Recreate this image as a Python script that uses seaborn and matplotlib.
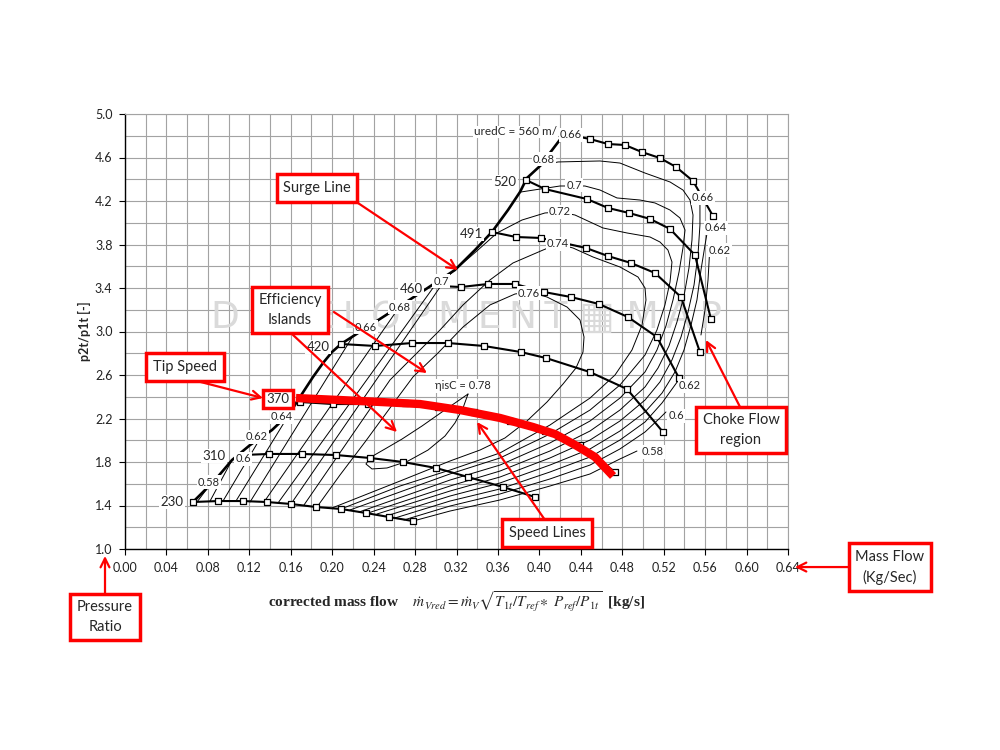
import matplotlib
matplotlib.use('Agg')
import matplotlib.pyplot as plt
import seaborn as sns
import pandas as pd
from matplotlib.ticker import MultipleLocator, FormatStrFormatter

sns.set_theme(style="whitegrid")
plt.rcParams['font.family'] = ['Lato', 'DejaVu Sans']
plt.rcParams['mathtext.fontset'] = 'stix'

RED = '#fe0000'

# speed lines: (corrected mass flow [kg/s], pressure ratio)
spd_230 = [(0.0656, 1.432), (0.0898, 1.441), (0.1139, 1.441), (0.1371, 1.432), (0.1602, 1.414),
           (0.1844, 1.386), (0.2085, 1.368), (0.2326, 1.331), (0.2548, 1.294), (0.2780, 1.257)]
spd_310 = [(0.1129, 1.864), (0.1390, 1.874), (0.1708, 1.874), (0.2037, 1.864), (0.2365, 1.837),
           (0.2683, 1.800), (0.3002, 1.745), (0.3311, 1.662), (0.3649, 1.570), (0.3958, 1.478)]
spd_370 = [(0.1689, 2.352), (0.2008, 2.333), (0.2346, 2.333), (0.2703, 2.343), (0.3021, 2.306),
           (0.3369, 2.260), (0.3716, 2.177), (0.4054, 2.085), (0.4392, 1.956), (0.4730, 1.708)]
spd_420 = [(0.2085, 2.885), (0.2413, 2.867), (0.2770, 2.894), (0.3118, 2.894), (0.3465, 2.867),
           (0.3822, 2.811), (0.4064, 2.756), (0.4488, 2.627), (0.4846, 2.471), (0.5193, 2.076)]
spd_460 = [(0.3041, 3.418), (0.3243, 3.409), (0.3504, 3.437), (0.3765, 3.437), (0.4045, 3.363),
           (0.4305, 3.317), (0.4575, 3.253), (0.4855, 3.133), (0.5135, 2.949), (0.5348, 2.572)]
spd_491 = [(0.3542, 3.915), (0.3774, 3.869), (0.4015, 3.860), (0.4450, 3.768), (0.4662, 3.694),
           (0.4884, 3.630), (0.5116, 3.538), (0.5367, 3.317), (0.5550, 2.811)]
spd_520 = [(0.3871, 4.393), (0.4054, 4.310), (0.4460, 4.218), (0.4662, 4.136), (0.4865, 4.090),
           (0.5068, 4.035), (0.5261, 3.943), (0.5502, 3.703), (0.5656, 3.115)]
spd_560 = [(0.4344, 4.798), (0.4488, 4.770), (0.4662, 4.724), (0.4826, 4.715), (0.4990, 4.650),
           (0.5164, 4.595), (0.5319, 4.513), (0.5483, 4.384), (0.5676, 4.062)]
# lines whose first point carries no marker
no_lead_marker = ['310', '460', '560']

surge = [(0.0656, 1.432), (0.0869, 1.634), (0.1033, 1.818), (0.1207, 1.956), (0.1419, 2.094),
         (0.1593, 2.251), (0.1670, 2.370), (0.1815, 2.582), (0.1911, 2.710), (0.1998, 2.811),
         (0.2085, 2.885), (0.2490, 3.133), (0.2819, 3.336), (0.3185, 3.566), (0.3378, 3.749),
         (0.3542, 3.915), (0.3697, 4.117), (0.3813, 4.283), (0.3880, 4.411), (0.4006, 4.522),
         (0.4218, 4.788)]

# tip speed 370 highlight
tip_370 = [(0.1651, 2.388), (0.2075, 2.370), (0.2461, 2.352), (0.2848, 2.333), (0.3234, 2.278),
           (0.3620, 2.205), (0.3938, 2.122), (0.4151, 2.057), (0.4363, 1.947), (0.4537, 1.846),
           (0.4711, 1.671)]

# isentropic efficiency contours (pieces inside the map)
eff_058 = [
    [(0.0695, 1.432), (0.0811, 1.579)],
    [(0.2780, 1.257), (0.3137, 1.349), (0.3620, 1.451), (0.4102, 1.579), (0.4489, 1.690),
     (0.4778, 1.828), (0.4942, 1.901)],
]
eff_060 = [
    [(0.0821, 1.441), (0.1033, 1.818)],
    [(0.2693, 1.267), (0.3137, 1.395), (0.3620, 1.506), (0.4102, 1.644), (0.4489, 1.772),
     (0.4778, 1.920), (0.5020, 2.076), (0.5164, 2.205), (0.5222, 2.260)],
]
eff_062 = [
    [(0.0946, 1.441), (0.1313, 2.030)],
    [(0.2606, 1.285), (0.3137, 1.441), (0.3620, 1.552), (0.4102, 1.708), (0.4489, 1.846),
     (0.4778, 2.002), (0.5020, 2.168), (0.5184, 2.343), (0.5309, 2.508), (0.5357, 2.572)],
    [(0.5647, 3.795), (0.5628, 3.474), (0.5599, 3.198), (0.5560, 2.968)],
]
eff_064 = [
    [(0.1071, 1.441), (0.1593, 2.251)],
    [(0.5637, 4.007), (0.5599, 3.795), (0.5560, 3.566), (0.5521, 3.290), (0.5464, 3.060),
     (0.5396, 2.830), (0.5309, 2.628), (0.5184, 2.434), (0.5020, 2.260), (0.4778, 2.085),
     (0.4489, 1.920), (0.4102, 1.772), (0.3620, 1.607), (0.3137, 1.487), (0.2519, 1.303)],
]
eff_066 = [
    [(0.1207, 1.432), (0.2201, 2.959)],
    [(0.5541, 4.283), (0.5550, 4.209), (0.5550, 3.979), (0.5531, 3.703), (0.5493, 3.428),
     (0.5435, 3.179), (0.5367, 2.949), (0.5280, 2.738), (0.5164, 2.536), (0.5020, 2.370),
     (0.4778, 2.177), (0.4489, 2.002), (0.4102, 1.837), (0.3620, 1.662), (0.3137, 1.533),
     (0.2433, 1.322)],
]
eff_068 = [
    [(0.1342, 1.432), (0.2655, 3.235)],
    [(0.4006, 4.522), (0.4180, 4.559), (0.4585, 4.568), (0.4778, 4.549), (0.5020, 4.457),
     (0.5261, 4.375), (0.5386, 4.301), (0.5454, 4.209), (0.5483, 4.071), (0.5473, 3.841),
     (0.5444, 3.584), (0.5396, 3.326), (0.5328, 3.087), (0.5251, 2.867), (0.5145, 2.664),
     (0.5020, 2.490), (0.4778, 2.278), (0.4489, 2.085), (0.4102, 1.901), (0.3620, 1.717),
     (0.3137, 1.579), (0.2346, 1.331)],
]
eff_070 = [
    [(0.1477, 1.423), (0.3021, 3.464)],
    [(0.3823, 4.283), (0.4199, 4.338), (0.4440, 4.338), (0.4585, 4.301), (0.4749, 4.228),
     (0.4971, 4.209), (0.5116, 4.182), (0.5261, 4.117), (0.5357, 4.044), (0.5406, 3.933),
     (0.5386, 3.768), (0.5348, 3.547), (0.5290, 3.290), (0.5222, 3.051), (0.5135, 2.830),
     (0.5020, 2.628), (0.4778, 2.388), (0.4489, 2.177), (0.4102, 1.975), (0.3620, 1.772),
     (0.3137, 1.634), (0.2259, 1.340)],
]
eff_072 = [
    [(0.1602, 1.414), (0.3108, 3.501), (0.3407, 3.749), (0.3591, 3.906), (0.3832, 4.025),
     (0.4054, 4.090), (0.4199, 4.099), (0.4344, 4.071), (0.4489, 4.007), (0.4614, 3.952),
     (0.4846, 3.906), (0.5068, 3.869), (0.5164, 3.823), (0.5241, 3.749), (0.5280, 3.639),
     (0.5261, 3.455), (0.5212, 3.244), (0.5135, 3.014), (0.5020, 2.784), (0.4778, 2.508),
     (0.4489, 2.278), (0.4102, 2.057), (0.3620, 1.837), (0.3137, 1.690), (0.2172, 1.359)],
]
eff_074 = [
    [(0.1728, 1.405), (0.2558, 2.554), (0.2780, 2.766), (0.3041, 3.014), (0.3263, 3.244),
     (0.3523, 3.474), (0.3745, 3.630), (0.4035, 3.749), (0.4180, 3.805), (0.4324, 3.768),
     (0.4518, 3.685), (0.4778, 3.593), (0.4952, 3.501), (0.5020, 3.400), (0.5029, 3.290),
     (0.4991, 3.060), (0.4894, 2.830), (0.4730, 2.600), (0.4489, 2.388), (0.4102, 2.140),
     (0.3620, 1.883), (0.3137, 1.726), (0.2655, 1.579), (0.2085, 1.368)],
]
eff_076 = [
    [(0.1853, 1.386), (0.2075, 1.680), (0.2317, 1.984), (0.2558, 2.297), (0.2780, 2.582),
     (0.3021, 2.802), (0.3263, 3.041), (0.3523, 3.244), (0.3765, 3.345), (0.3909, 3.363),
     (0.4074, 3.317), (0.4267, 3.225), (0.4392, 3.106), (0.4431, 2.949), (0.4421, 2.811),
     (0.4353, 2.664), (0.4228, 2.517), (0.4074, 2.352), (0.3880, 2.177), (0.3668, 2.021),
     (0.3427, 1.910), (0.3137, 1.809), (0.2655, 1.625), (0.1998, 1.377)],
]
eff_078 = [
    [(0.3311, 2.425), (0.3263, 2.297), (0.3185, 2.159), (0.3089, 2.039), (0.2925, 1.910),
     (0.2732, 1.809), (0.2529, 1.745), (0.2384, 1.736), (0.2326, 1.782), (0.2375, 1.846),
     (0.2510, 1.920), (0.2674, 2.011), (0.2867, 2.131), (0.3060, 2.260), (0.3214, 2.361),
     (0.3311, 2.425)],
]

eff_labels = [("0.58", 0.0811, 1.616), ("0.6", 0.1139, 1.828), ("0.62", 0.1274, 2.030),
              ("0.64", 0.1516, 2.214), ("0.66", 0.2326, 3.041), ("0.68", 0.2655, 3.225),
              ("0.7", 0.3050, 3.464), ("0.66", 0.4305, 4.807), ("0.68", 0.4045, 4.586),
              ("0.7", 0.4334, 4.347), ("0.72", 0.4199, 4.099), ("0.74", 0.4180, 3.805),
              ("0.76", 0.3900, 3.354), ("\u03b7isC = 0.78", 0.3263, 2.499),
              ("0.66", 0.5579, 4.228), ("0.64", 0.5705, 3.952), ("0.62", 0.5744, 3.749),
              ("0.62", 0.5454, 2.499), ("0.6", 0.5319, 2.223), ("0.58", 0.5097, 1.892)]

speed_labels = [("230", 0.0454, 1.432), ("310", 0.0859, 1.855), ("420", 0.1863, 2.857),
                ("460", 0.2761, 3.391), ("491", 0.3340, 3.897), ("520", 0.3668, 4.375)]

pr_ticks = [1.0, 1.4, 1.8, 2.2, 2.6, 3.0, 3.4, 3.8, 4.2, 4.6, 5.0]

speed_lines = {'230': spd_230, '310': spd_310, '370': spd_370, '420': spd_420,
               '460': spd_460, '491': spd_491, '520': spd_520, '560': spd_560}

rows = []
for name, pts in speed_lines.items():
    for i, (m, pr) in enumerate(pts):
        marked = not (i == 0 and name in no_lead_marker)
        rows.append({'speed': name, 'order': i, 'm': m, 'pr': pr, 'marked': marked})
df = pd.DataFrame(rows)

fig = plt.figure(figsize=(10, 7.5), dpi=100)
ax = fig.add_axes([0.125, 0.268, 0.663, 0.58])
ax.set_facecolor('white')

# efficiency contours
for pieces in [eff_058, eff_060, eff_062, eff_064, eff_066, eff_068,
               eff_070, eff_072, eff_074, eff_076, eff_078]:
    for p in pieces:
        m, pr = zip(*p)
        ax.plot(m, pr, color='black', lw=0.7, zorder=2)

# surge line
sm, spr = zip(*surge)
ax.plot(sm, spr, color='black', lw=1.9, zorder=3, solid_capstyle='butt')

# speed lines
sns.lineplot(data=df, x='m', y='pr', units='speed', estimator=None, sort=False,
             color='black', lw=1.5, ax=ax, zorder=3)
sns.scatterplot(data=df[df['marked']], x='m', y='pr', marker='s', s=16,
                facecolor='white', edgecolor='black', linewidth=0.9, ax=ax, zorder=4)

# tip speed highlight
tm, tpr = zip(*tip_370)
ax.plot(tm, tpr, color=RED, lw=6, zorder=5, solid_capstyle='butt')

# watermark
ts = "\u2009"
ax.text(0.3296, 3.124, ts.join("DEVELOPMENT") + " \u25a6 " + ts.join("MAP"),
        fontsize=27, color='#dadada', ha='center', va='center', zorder=1,
        family=['DejaVu Sans', 'Noto Sans CJK SC'])

for txt, x, y in eff_labels:
    ax.text(x, y, txt, fontsize=8, ha='center', va='center', zorder=6,
            bbox=dict(boxstyle='square,pad=0.12', fc='white', ec='none'))

for txt, x, y in speed_labels:
    ax.text(x, y, txt, fontsize=9.5, ha='center', va='center', zorder=6,
            bbox=dict(boxstyle='square,pad=0.1', fc='white', ec='none'))
ax.text(0.4170, 4.835, "uredC = 560 m/", fontsize=8.5, ha='right', va='center', zorder=6,
        bbox=dict(boxstyle='square,pad=0.05', fc='white', ec='none'))
ax.text(0.1477, 2.379, "370", fontsize=9.5, ha='center', va='center', zorder=7,
        bbox=dict(boxstyle='square,pad=0.25', fc='white', ec=RED, lw=2.5))

# call-outs
def callout(text, pos, tails=(), heads=()):
    ax.text(pos[0], pos[1], text, fontsize=10.5, ha='center', va='center', zorder=8,
            linespacing=1.5, clip_on=False,
            bbox=dict(boxstyle='square,pad=0.45', fc='white', ec=RED, lw=2.5))
    for t, h in zip(tails, heads):
        ax.annotate('', xy=h, xytext=t, annotation_clip=False, zorder=7,
                    arrowprops=dict(arrowstyle='->', color=RED, lw=1.6, mutation_scale=16,
                                    shrinkA=0, shrinkB=0))

callout("Surge Line", (0.1853, 4.320), [(0.2220, 4.200)], [(0.3214, 3.566)])
callout("Efficiency\nIslands", (0.1593, 3.198),
        [(0.2017, 3.179), (0.1622, 2.968)], [(0.2915, 2.618), (0.2626, 2.076)])
callout("Tip Speed", (0.0579, 2.674), [(0.0656, 2.554)], [(0.1332, 2.388)])
callout("Speed Lines", (0.4074, 1.147), [(0.4054, 1.267)], [(0.3398, 2.168)])
callout("Choke Flow\nregion", (0.5946, 2.094), [(0.5937, 2.306)], [(0.5608, 2.922)])
callout("Pressure\nRatio", (-0.0193, 0.375), [(-0.0193, 0.559)], [(-0.0193, 0.936)])
callout("Mass Flow\n(Kg/Sec)", (0.7384, 0.834), [(0.6979, 0.834)], [(0.6467, 0.834)])

ax.set_xlim(0, 0.64)
ax.set_ylim(1.0, 5.0)
ax.xaxis.set_major_locator(MultipleLocator(0.04))
ax.xaxis.set_minor_locator(MultipleLocator(0.02))
ax.set_yticks(pr_ticks)
ax.yaxis.set_minor_locator(MultipleLocator(0.2))
ax.xaxis.set_major_formatter(FormatStrFormatter('%.2f'))
ax.yaxis.set_major_formatter(FormatStrFormatter('%.1f'))
ax.grid(which='both', color='#a3a3a3', linewidth=0.8, zorder=0)
ax.set_axisbelow(True)
ax.tick_params(which='major', direction='out', length=4, width=0.8, color='black',
               labelsize=9, bottom=True, left=True, pad=5, labelcolor='#222222')
ax.tick_params(which='minor', length=0)
for s in ['left', 'bottom']:
    ax.spines[s].set_color('black')
    ax.spines[s].set_linewidth(1.0)
for s in ['top', 'right']:
    ax.spines[s].set_color('#a3a3a3')
    ax.spines[s].set_linewidth(0.8)

ax.set_ylabel("p2t/p1t [-]", fontsize=9, fontweight='bold', labelpad=3)
ax.set_xlabel(r"corrected mass flow    $\dot{m}_{Vred} = \dot{m}_{V}\sqrt{T_{1t}/T_{ref}\ast\ P_{ref}/P_{1t}}$  [kg/s]",
              fontsize=11, fontweight='bold', family=['Liberation Serif', 'DejaVu Serif'], labelpad=12)

fig.savefig("out.png", dpi=100)
plt.close(fig)
